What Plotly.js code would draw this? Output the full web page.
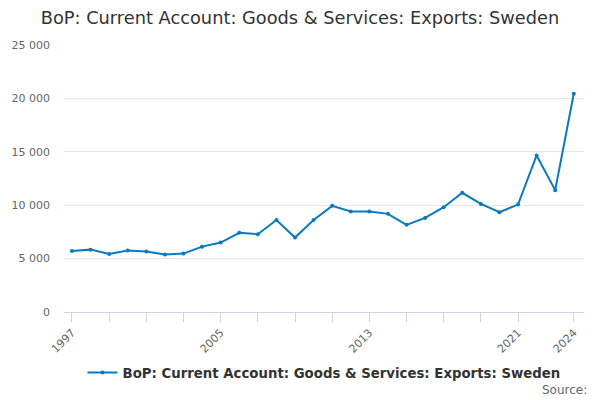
<!DOCTYPE html>
<html>
<head>
<meta charset="utf-8">
<script src="https://cdn.plot.ly/plotly-3.0.1.min.js"></script>
<style>html,body{margin:0;padding:0;background:#fff}#chart{width:600px;height:400px}</style>
</head>
<body>
<div id="chart"></div>
<script>
const years = [1997,1998,1999,2000,2001,2002,2003,2004,2005,2006,2007,2008,2009,2010,2011,2012,2013,2014,2015,2016,2017,2018,2019,2020,2021,2022,2023,2024];
const exportsSweden = [5720,5840,5440,5750,5660,5380,5470,6120,6500,7410,7280,8620,6970,8620,9940,9410,9410,9190,8160,8810,9810,11160,10120,9340,10060,14660,11410,20440];
const tickYears = [1997,1999,2001,2003,2005,2007,2009,2011,2013,2015,2017,2019,2021,2024];
const tickLabels = ['1997','','','','2005','','','','2013','','','','2021','2024'];
const seriesName = 'BoP: Current Account: Goods & Services: Exports: Sweden';

const trace = {
  x: years, y: exportsSweden, type: 'scatter', mode: 'lines+markers',
  name: seriesName,
  line: {color: '#0a7ac0', width: 2},
  marker: {color: '#0a7ac0', size: 4}
};
const layout = {
  width: 600, height: 400,
  margin: {l: 64, r: 16, t: 45, b: 88},
  paper_bgcolor: '#fff', plot_bgcolor: '#fff',
  font: {family: 'DejaVu Sans, sans-serif', color: '#666'},
  separators: '. ',
  title: {text: 'BoP: Current Account: Goods & Services: Exports: Sweden', font: {size: 17.8, color: '#333'}, x: 0.5, xanchor: 'center', y: 0.955, yanchor: 'middle'},
  xaxis: {
    range: [1996.57, 2024.55], tickmode: 'array', tickvals: tickYears, ticktext: tickLabels,
    tickangle: -45, ticks: 'outside', ticklen: 9, tickcolor: '#ccd6eb', tickwidth: 1,
    showline: true, linecolor: '#ccd6eb', linewidth: 1, showgrid: false, zeroline: false,
    tickfont: {size: 11, color: '#666'}
  },
  yaxis: {
    range: [0, 25000], tickvals: [0,5000,10000,15000,20000,25000], tickformat: ',d',
    showgrid: true, gridcolor: '#e6e6e6', zeroline: false, showline: false,
    tickfont: {size: 11, color: '#666'}, ticks: '', ticklabelstandoff: 13
  },
  showlegend: true,
  legend: {orientation: 'h', x: 0.5, xanchor: 'center', y: -0.228, yanchor: 'middle', font: {size: 13.3, color: '#333', weight: 'bold'}},
  annotations: [{text: 'Source:', xref: 'paper', yref: 'paper', x: 1.0096, y: -0.292, xanchor: 'right', yanchor: 'middle', showarrow: false, font: {size: 12, color: '#666'}}]
};
Plotly.newPlot('chart', [trace], layout, {displayModeBar: false, staticPlot: true});
</script>
</body>
</html>
